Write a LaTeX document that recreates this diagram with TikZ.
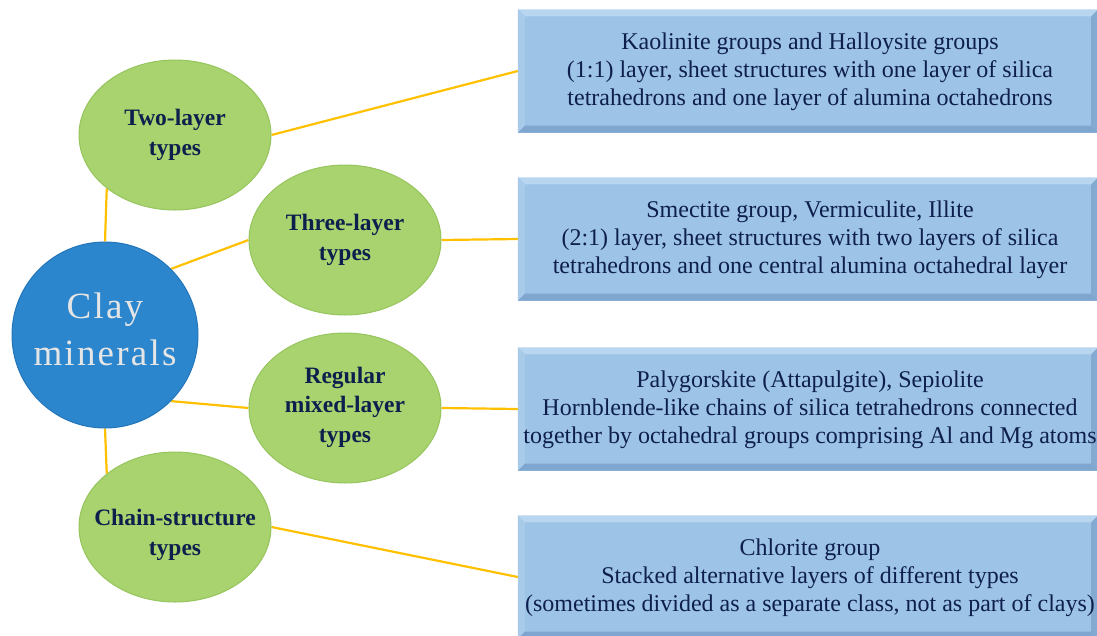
\documentclass[tikz,border=0pt]{standalone}
\usepackage{fontspec}
\setmainfont{Liberation Serif}
\newfontfamily\clayfont[LetterSpace=6]{Liberation Serif}
\usetikzlibrary{shapes.geometric,calc}
\definecolor{navy}{HTML}{0E1F4D}
\definecolor{boxfill}{HTML}{9DC3E6}
\definecolor{boxlight}{HTML}{B9D6F0}
\definecolor{boxdark}{HTML}{7FA6CF}
\definecolor{boxside}{HTML}{A9CBEA}
\definecolor{leaf}{HTML}{A8D36E}
\definecolor{leafrim}{HTML}{96C45D}
\definecolor{clayblue}{HTML}{2B86CD}
\definecolor{clayrim}{HTML}{2375BA}
\definecolor{link}{HTML}{FFC000}
\pgfdeclarelayer{bg}
\pgfsetlayers{bg,main}
\tikzset{
  x=1pt, y=-1pt,
  typeell/.style={ellipse, fill=leaf, draw=leafrim, line width=1pt,
    minimum width=192pt, minimum height=150pt, inner sep=0pt},
  typetext/.style={align=center, text=navy, inner sep=0pt,
    font=\fontsize{23.5}{29.5}\selectfont\bfseries},
  claycirc/.style={circle, fill=clayblue, draw=clayrim, line width=1pt,
    minimum size=186pt, inner sep=0pt},
  claytext/.style={align=center, text=white!90!black,
    font=\fontsize{37}{47}\selectfont\clayfont},
  infobox/.style={rectangle, fill=boxfill, minimum width=580pt, minimum height=123pt,
    inner sep=0pt},
  infotext/.style={text=navy, align=center, font=\fontsize{24}{28}\selectfont},
  linkline/.style={draw=link, line width=2.2pt}
}
\begin{document}
\begin{tikzpicture}
\useasboundingbox (0,0) rectangle (1097,635);
% boxes
\node[infobox] (b1) at (808,71) {};
\node[infobox] (b2) at (808,239) {};
\node[infobox] (b3) at (808,409) {};
\node[infobox] (b4) at (808,577) {};
\foreach \b in {b1,b2,b3,b4}{
  \fill[boxlight] (\b.north west) -- (\b.north east) -- ($(\b.north east)+(-7,7)$) -- ($(\b.north west)+(7,7)$) -- cycle;
  \fill[boxside] (\b.north west) -- ($(\b.north west)+(7,7)$) -- ($(\b.south west)+(7,-7)$) -- (\b.south west) -- cycle;
  \fill[boxdark] (\b.south west) -- ($(\b.south west)+(7,-7)$) -- ($(\b.south east)+(-7,-7)$) -- (\b.south east) -- cycle;
  \fill[boxdark!85!boxfill] (\b.north east) -- ($(\b.north east)+(-7,7)$) -- ($(\b.south east)+(-7,-7)$) -- (\b.south east) -- cycle;
}
\node[infotext] (t1) at ($(b1)+(2,1)$) {Kaolinite groups and Halloysite groups\\(1:1) layer, sheet structures with one layer of silica\\tetrahedrons and one layer of alumina octahedrons};
\node[infotext] (t2) at ($(b2)+(2,1)$) {Smectite group, Vermiculite, Illite\\(2:1) layer, sheet structures with two layers of silica\\tetrahedrons and one central alumina octahedral layer};
\node[infotext] (t3) at ($(b3)+(2,1)$) {Palygorskite (Attapulgite), Sepiolite\\Hornblende-like chains of silica tetrahedrons connected\\together by octahedral groups comprising Al and Mg atoms};
\node[infotext] (t4) at ($(b4)+(2,1)$) {Chlorite group\\Stacked alternative layers of different types\\(sometimes divided as a separate class, not as part of clays)};
% ellipses and circle
\node[typeell] (e1) at (175,135) {};
\node[typeell] (e2) at (345,240) {};
\node[typeell] (e3) at (345,408) {};
\node[typeell] (e4) at (175,527) {};
\node[typetext] (l1) at ($(e1)+(0,0)$) {Two-layer\\types};
\node[typetext] (l2) at ($(e2)+(0,0)$) {Three-layer\\types};
\node[typetext] (l3) at ($(e3)+(0,-1)$) {Regular\\mixed-layer\\types};
\node[typetext] (l4) at ($(e4)+(0,8)$) {Chain-structure\\types};
\node[claycirc] (clay) at (105,335) {};
\node[claytext] (claylbl) at ($(clay)+(0,-6)$) {Clay\\minerals};
% links
\begin{pgfonlayer}{bg}
\draw[linkline] (clay.north) -- (e1.south west);
\draw[linkline] (clay.north east) -- (e2.west);
\draw[linkline] (clay.south east) -- (e3.west);
\draw[linkline] (clay.south) -- (e4.north west);
\draw[linkline] (e1.east) -- (b1.west);
\draw[linkline] (e2.east) -- (b2.west);
\draw[linkline] (e3.east) -- (b3.west);
\draw[linkline] (e4.east) -- (b4.west);
\end{pgfonlayer}
\end{tikzpicture}
\end{document}
